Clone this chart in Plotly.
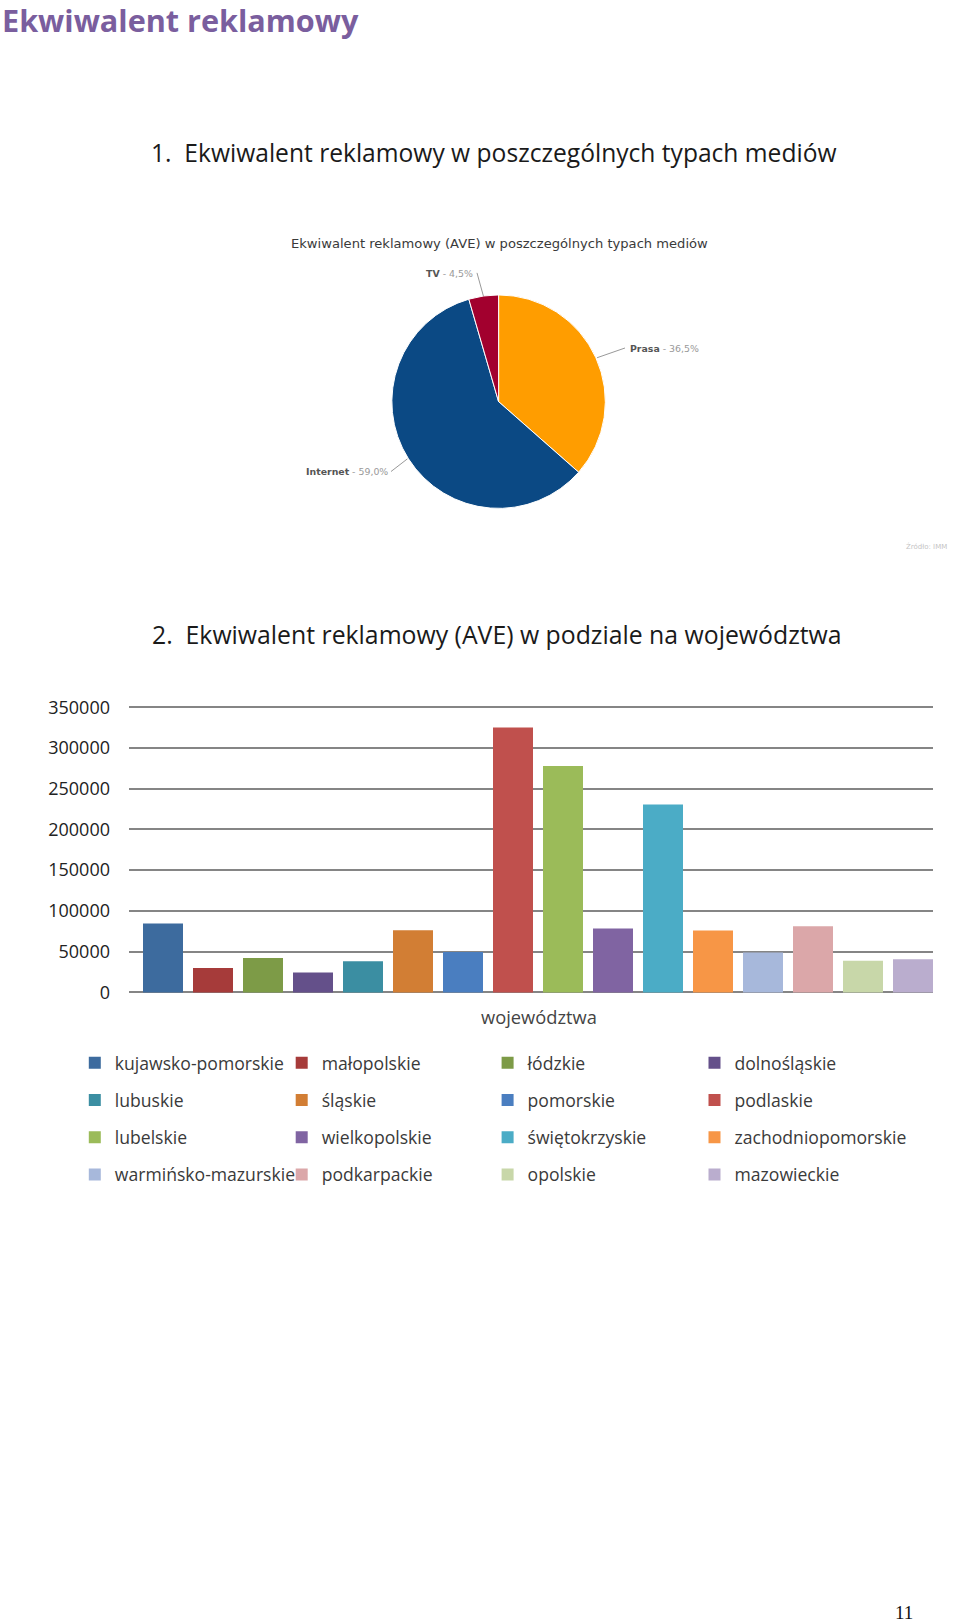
import math
import plotly.graph_objects as go

W, H = 960, 1622

# ---------------- data ----------------
media_labels = ["Prasa", "Internet", "TV"]
media_values = [36.5, 59.0, 4.5]
media_text = ["36,5%", "59,0%", "4,5%"]
media_colors = ["#FF9D00", "#0B4984", "#A2002E"]

regions = ["kujawsko-pomorskie", "małopolskie", "łódzkie", "dolnośląskie",
           "lubuskie", "śląskie", "pomorskie", "podlaskie",
           "lubelskie", "wielkopolskie", "świętokrzyskie", "zachodniopomorskie",
           "warmińsko-mazurskie", "podkarpackie", "opolskie", "mazowieckie"]
ave_values = [84500, 30000, 42300, 24500,
              38300, 76300, 49700, 325000,
              277800, 78300, 230500, 75900,
              49000, 81200, 38700, 40800]
region_colors = ["#3D6B9E", "#A63B3A", "#7D9B47", "#64508A",
                 "#3B8EA2", "#D27E34", "#4A7EC0", "#C0504D",
                 "#9BBB59", "#8064A2", "#4BACC6", "#F79646",
                 "#A7B8DB", "#DBA7A9", "#C8D7A9", "#BAADCE"]
y_ticks = [0, 50000, 100000, 150000, 200000, 250000, 300000, 350000]


def px(x):
    return x / W


def py(y):
    return 1 - y / H


fig = go.Figure()

# ---------------- pie ----------------
pie_cx, pie_cy, pie_r = 498.6, 396.3, 108
fig.add_trace(go.Pie(
    labels=media_labels, values=media_values, sort=False,
    direction="clockwise", rotation=0,
    marker=dict(colors=media_colors, line=dict(color="white", width=1)),
    textinfo="none", hoverinfo="label+percent", showlegend=False,
    domain=dict(x=[px(pie_cx - pie_r), px(pie_cx + pie_r)],
                y=[py(pie_cy + pie_r), py(pie_cy - pie_r)]),
))

# ---------------- bars ----------------
legend_names = ["legend", "legend2", "legend3", "legend4"]   # one legend per column
for i, (name, val, col) in enumerate(zip(regions, ave_values, region_colors)):
    fig.add_trace(go.Bar(
        x=[i], y=[val], name=name, width=0.8,
        marker=dict(color=col, line=dict(width=0)),
        legend=legend_names[i % 4], legendgroup=name,
        xaxis="x", yaxis="y",
    ))

# ---------------- annotations ----------------
ann = []
shapes = []


def note(text, x, y, xanchor="center", size=12, color="#222", family="Open Sans"):
    ann.append(dict(text=text, x=px(x), y=py(y), xref="paper", yref="paper",
                    xanchor=xanchor, yanchor="middle", showarrow=False,
                    font=dict(family=family, size=size, color=color)))


note("<b>Ekwiwalent reklamowy</b>", 0, 10, "left", 30.6, "#7A5E9E")
note("1.  Ekwiwalent reklamowy w poszczególnych typach mediów", 494, 143.7, size=24.6, color="#1a1a1a")
note("2.  Ekwiwalent reklamowy (AVE) w podziale na województwa", 497, 631, size=24.8, color="#1a1a1a")
note("Ekwiwalent reklamowy (AVE) w poszczególnych typach mediów", 499, 235.8,
     size=13.1, color="#3a3a3a", family="DejaVu Sans")
note("Źródło: IMM", 949, 543, "right", 7, "#c4c4c4", "DejaVu Sans")
note("11", 904, 1621, size=19, color="#111", family="Liberation Serif")
note("województwa", 539, 1018, size=18.3, color="#444")

# pie labels with leader lines (edge points derived from the slice values)
label_pos = {
    "Prasa": dict(x=628, y=342.8, xanchor="left", lx=625, ly=342),
    "Internet": dict(x=390, y=467, xanchor="right", lx=391, ly=467),
    "TV": dict(x=475, y=266.8, xanchor="right", lx=477, ly=266),
}
total = sum(media_values)
cum = 0.0
for lab, val, txt in zip(media_labels, media_values, media_text):
    mid = (cum + val / 2) / total * 2 * math.pi
    cum += val
    ex = pie_cx + pie_r * math.sin(mid)
    ey = pie_cy - pie_r * math.cos(mid)
    p = label_pos[lab]
    note(f"<b>{lab}</b><span style='color:#999'> - {txt}</span>", p["x"], p["y"],
         p["xanchor"], 9.4, "#555", "DejaVu Sans")
    shapes.append(dict(type="line", xref="paper", yref="paper",
                       x0=px(p["lx"]), y0=py(p["ly"]), x1=px(ex), y1=py(ey),
                       line=dict(color="#999", width=1)))

# ---------------- layout ----------------
plot_bottom_px, plot_top_px = 996.5, 703.0
legend_cols_x = [74.8, 281.7, 487.6, 694.5]
legend_top = 1047
legend_common = dict(orientation="v", xanchor="left", yanchor="top", y=py(legend_top),
                     tracegroupgap=11.4, bgcolor="rgba(0,0,0,0)", traceorder="grouped",
                     font=dict(family="Open Sans", size=17.6, color="#3a3a3a"))

layout = dict(
    width=W, height=H,
    margin=dict(l=0, r=0, t=0, b=0),
    paper_bgcolor="white", plot_bgcolor="white",
    barmode="overlay",
    xaxis=dict(domain=[px(129), px(933)], range=[-0.68, 15.4],
               showticklabels=False, showgrid=False, zeroline=False, showline=False,
               ticks="", fixedrange=True),
    yaxis=dict(domain=[py(plot_bottom_px), py(plot_top_px)], range=[-3000, 353000],
               tickvals=y_ticks, ticktext=[str(v) for v in y_ticks],
               showgrid=True, gridcolor="#858585", gridwidth=1.5,
               zeroline=True, zerolinecolor="#858585", zerolinewidth=1.5,
               showline=False, ticks="", ticklabelstandoff=18,
               tickfont=dict(family="Open Sans", size=18, color="#222"),
               fixedrange=True),
    annotations=ann,
    shapes=shapes,
    showlegend=True,
)
for i, ln in enumerate(legend_names):
    layout[ln] = dict(legend_common, x=px(legend_cols_x[i]))

fig.update_layout(**layout)

pin_script = (
    "document.documentElement.style.margin='0';"
    "document.body.style.margin='0';"
    "document.body.style.overflow='hidden';"
    "var gd=document.getElementsByClassName('plotly-graph-div')[0];"
    "gd.style.position='fixed';gd.style.top='0px';gd.style.left='0px';"
)
fig.write_html("out.html", config={"displayModeBar": False}, post_script=pin_script)
